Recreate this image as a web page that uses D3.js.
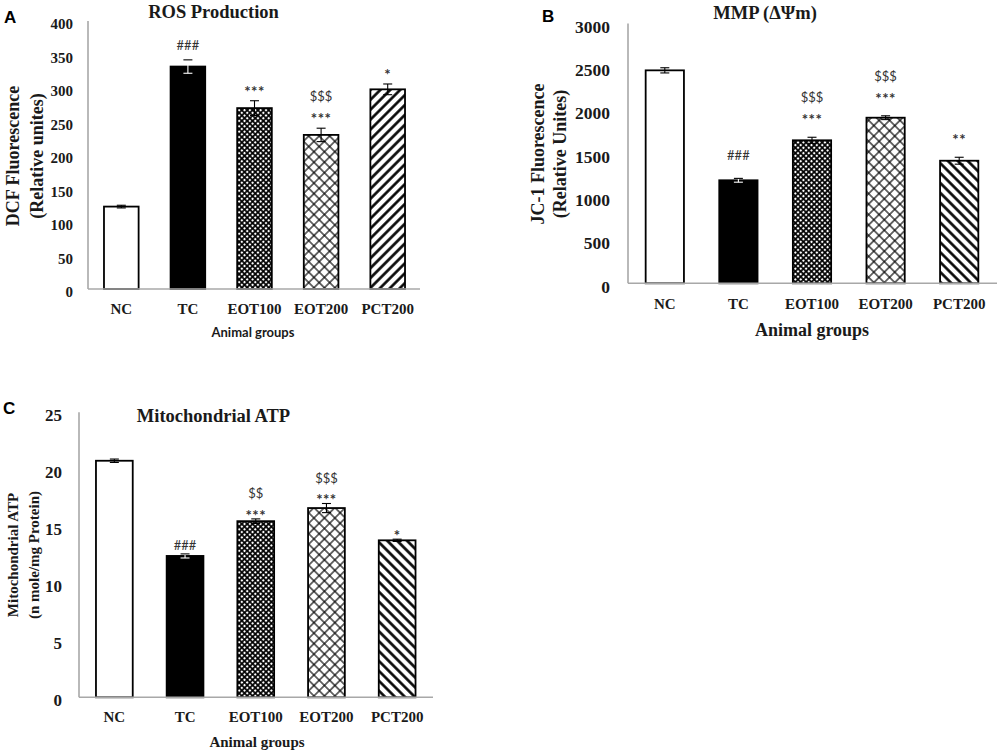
<!DOCTYPE html>
<html><head><meta charset="utf-8">
<script src="https://cdn.jsdelivr.net/npm/d3@7"></script>
<style>body{margin:0;background:#fff} svg{display:block}</style>
</head><body>
<svg id="chart" width="1000" height="756"></svg>
<script>
// ---------- data ----------
const groups = ["NC", "TC", "EOT100", "EOT200", "PCT200"];

const rosValues = [123, 332, 270, 230, 298];
const rosErrors = [2, 10, 11, 10, 8];
const rosMarks  = [[], ["###"], ["***"], ["***", "$$$"], ["*"]];
const rosTicks  = [0, 50, 100, 150, 200, 250, 300, 350, 400];

const mmpValues = [2460, 1190, 1652, 1913, 1416];
const mmpErrors = [30, 22, 35, 22, 40];
const mmpMarks  = [[], ["###"], ["***", "$$$"], ["***", "$$$"], ["**"]];
const mmpTicks  = [0, 500, 1000, 1500, 2000, 2500, 3000];

const atpValues = [20.75, 12.4, 15.45, 16.6, 13.77];
const atpErrors = [0.15, 0.18, 0.2, 0.4, 0.1];
const atpMarks  = [[], ["###"], ["***", "$$"], ["***", "$$$"], ["*"]];
const atpTicks  = [0, 5, 10, 15, 20, 25];

const fills = ["#ffffff", "#000000", "url(#dense)", "url(#cross)", null];

// ---------- setup ----------
const svg = d3.select("#chart");
const defs = svg.append("defs");
const SERIF = "'Liberation Serif','Times New Roman',serif";
const SANS = "Lato,'Open Sans',sans-serif";

function gridPattern(id, size, sw, color) {
  const p = defs.append("pattern").attr("id", id)
    .attr("patternUnits", "userSpaceOnUse")
    .attr("width", size).attr("height", size)
    .attr("patternTransform", "rotate(45)");
  p.append("rect").attr("width", size).attr("height", size).attr("fill", "#fff");
  p.append("line").attr("x1", 0).attr("y1", size / 2).attr("x2", size).attr("y2", size / 2)
    .attr("stroke", color).attr("stroke-width", sw);
  p.append("line").attr("x1", size / 2).attr("y1", 0).attr("x2", size / 2).attr("y2", size)
    .attr("stroke", color).attr("stroke-width", sw);
}
function stripePattern(id, size, sw, angle) {
  const p = defs.append("pattern").attr("id", id)
    .attr("patternUnits", "userSpaceOnUse")
    .attr("width", size).attr("height", size)
    .attr("patternTransform", `rotate(${angle})`);
  p.append("rect").attr("width", size).attr("height", size).attr("fill", "#fff");
  p.append("line").attr("x1", size / 2).attr("y1", 0).attr("x2", size / 2).attr("y2", size)
    .attr("stroke", "#000").attr("stroke-width", sw);
}
gridPattern("dense", 3.8, 1.7, "#000");
gridPattern("cross", 7.4, 1.15, "#000");
stripePattern("fwd", 7, 2.6, 45);
stripePattern("back", 7, 2.6, -45);

function drawPanel(cfg) {
  const g = svg.append("g");
  const x = d3.scaleBand().domain(groups).range([cfg.x0, cfg.x1])
    .paddingInner(0.48).paddingOuter(0.24);
  const y = d3.scaleLinear().domain([0, d3.max(cfg.ticks)]).range([cfg.y0, cfg.y1]);

  // y axis line
  g.append("line").attr("x1", cfg.x0).attr("x2", cfg.x0)
    .attr("y1", y(0)).attr("y2", y(d3.max(cfg.ticks)))
    .attr("stroke", "#a8a8a8").attr("stroke-width", 1.6);

  // y tick labels via d3 axis
  const ya = d3.axisLeft(y).tickValues(cfg.ticks).tickFormat(d3.format("d"))
    .tickSize(0).tickPadding(cfg.tickPad);
  const yg = g.append("g").attr("transform", `translate(${cfg.x0},0)`).call(ya);
  yg.select(".domain").remove();
  yg.selectAll("text").attr("font-family", SERIF).attr("font-weight", "bold")
    .attr("font-size", cfg.tickSize).attr("fill", "#1a1a1a").attr("dy", "0.5em");

  // bars
  const data = groups.map((k, i) => ({ k, v: cfg.values[i], e: cfg.errors[i], m: cfg.marks[i],
    fill: fills[i] || `url(#${cfg.stripe})` }));
  g.selectAll("rect.bar").data(data).join("rect").attr("class", "bar")
    .attr("x", d => x(d.k)).attr("width", x.bandwidth())
    .attr("y", d => y(d.v)).attr("height", d => y(0) - y(d.v))
    .attr("fill", d => d.fill).attr("stroke", "#000").attr("stroke-width", 1.8);

  // x axis line
  g.append("line").attr("x1", cfg.x0).attr("x2", cfg.xAxisEnd)
    .attr("y1", y(0)).attr("y2", y(0))
    .attr("stroke", "#a8a8a8").attr("stroke-width", 1.6);

  // error bars
  const cap = 4.5;
  const cx = d => x(d.k) + x.bandwidth() / 2;
  const eb = g.selectAll("g.err").data(data).join("g").attr("class", "err");
  eb.append("line").attr("x1", cx).attr("x2", cx)
    .attr("y1", d => y(d.v - d.e)).attr("y2", d => y(d.v + d.e))
    .attr("stroke", d => d.k === "TC" ? "#fff" : "#000").attr("stroke-width", 1.1);
  eb.append("line").attr("x1", d => cx(d) - cap).attr("x2", d => cx(d) + cap)
    .attr("y1", d => y(d.v + d.e)).attr("y2", d => y(d.v + d.e))
    .attr("stroke", "#000").attr("stroke-width", 1.1);
  eb.append("line").attr("x1", d => cx(d) - cap).attr("x2", d => cx(d) + cap)
    .attr("y1", d => y(d.v - d.e)).attr("y2", d => y(d.v - d.e))
    .attr("stroke", d => d.k === "TC" ? "#fff" : "#000").attr("stroke-width", 1.1);

  // significance marks
  data.forEach(d => {
    d.m.forEach((s, j) => {
      const star = s[0] === "*";
      g.append("text").attr("x", cx(d))
        .attr("y", y(d.v + d.e) - cfg.markGap - j * 16.5)
        .attr("dy", star ? "0.72em" : "0.36em")
        .attr("text-anchor", "middle").attr("font-family", SANS)
        .attr("font-weight", star ? "bold" : "normal")
        .attr("font-size", star ? 15 : 13).attr("fill", "#333")
        .attr("letter-spacing", star ? 0.5 : 0)
        .text(s);
    });
  });

  // x labels
  g.selectAll("text.xl").data(groups).join("text").attr("class", "xl")
    .attr("x", d => x(d) + x.bandwidth() / 2).attr("y", y(0) + cfg.xlabOff)
    .attr("text-anchor", "middle").attr("font-family", SERIF).attr("font-weight", "bold")
    .attr("font-size", 15).attr("fill", "#1a1a1a").text(d => d);

  // x title
  g.append("text").attr("x", cfg.xt[0]).attr("y", cfg.xt[1])
    .attr("text-anchor", "middle").attr("font-family", cfg.xtFont).attr("font-weight", "bold")
    .attr("font-size", cfg.xtSize).attr("fill", "#1a1a1a").text("Animal groups");

  // y title (two lines)
  cfg.ylab.forEach((t, i) => {
    g.append("text").attr("transform", `translate(${cfg.ylx[i]},${cfg.yly}) rotate(-90)`)
      .attr("text-anchor", "middle").attr("dominant-baseline", "central")
      .attr("font-family", SERIF).attr("font-weight", "bold")
      .attr("font-size", cfg.ylSize).attr("fill", "#1a1a1a").text(t);
  });

  // title
  g.append("text").attr("x", cfg.title[1]).attr("y", cfg.title[2])
    .attr("text-anchor", "middle").attr("font-family", SERIF).attr("font-weight", "bold")
    .attr("font-size", 18.5).attr("fill", "#1a1a1a").text(cfg.title[0]);

  // panel letter
  g.append("text").attr("x", cfg.letter[1]).attr("y", cfg.letter[2])
    .attr("font-family", "'Liberation Sans',Arial,sans-serif").attr("font-weight", "bold")
    .attr("font-size", 17).attr("fill", "#000").text(cfg.letter[0]);
}

drawPanel({
  values: rosValues, errors: rosErrors, marks: rosMarks, ticks: rosTicks, stripe: "fwd",
  x0: 88, x1: 421, xAxisEnd: 420, y0: 289, y1: 21, tickPad: 15, tickSize: 15,
  markGap: 15, xlabOff: 25,
  xt: [253, 337], xtFont: SANS, xtSize: 13,
  ylab: ["DCF Fluorescence", "(Relative unites)"], ylx: [13, 37], yly: 156, ylSize: 18,
  title: ["ROS Production", 213.5, 18], letter: ["A", 4, 23]
});
drawPanel({
  values: mmpValues, errors: mmpErrors, marks: mmpMarks, ticks: mmpTicks, stripe: "back",
  x0: 628, x1: 996, xAxisEnd: 997, y0: 283.3, y1: 23.6, tickPad: 18, tickSize: 17.5,
  markGap: 23, xlabOff: 26,
  xt: [812, 336], xtFont: SERIF, xtSize: 18,
  ylab: ["JC-1 Fluorescence", "(Relative Unites)"], ylx: [538, 560], yly: 154, ylSize: 18,
  title: ["MMP (ΔΨm)", 765, 19], letter: ["B", 542, 22]
});
drawPanel({
  values: atpValues, errors: atpErrors, marks: atpMarks, ticks: atpTicks, stripe: "back",
  x0: 79, x1: 432.5, xAxisEnd: 433, y0: 697.3, y1: 412.3, tickPad: 17, tickSize: 17,
  markGap: 9, xlabOff: 25,
  xt: [257, 747], xtFont: SERIF, xtSize: 15,
  ylab: ["Mitochondrial ATP", "(n mole/mg Protein)"], ylx: [12.7, 33.5], yly: 555, ylSize: 15,
  title: ["Mitochondrial ATP", 213.5, 422], letter: ["C", 3, 414]
});
</script>
</body></html>
